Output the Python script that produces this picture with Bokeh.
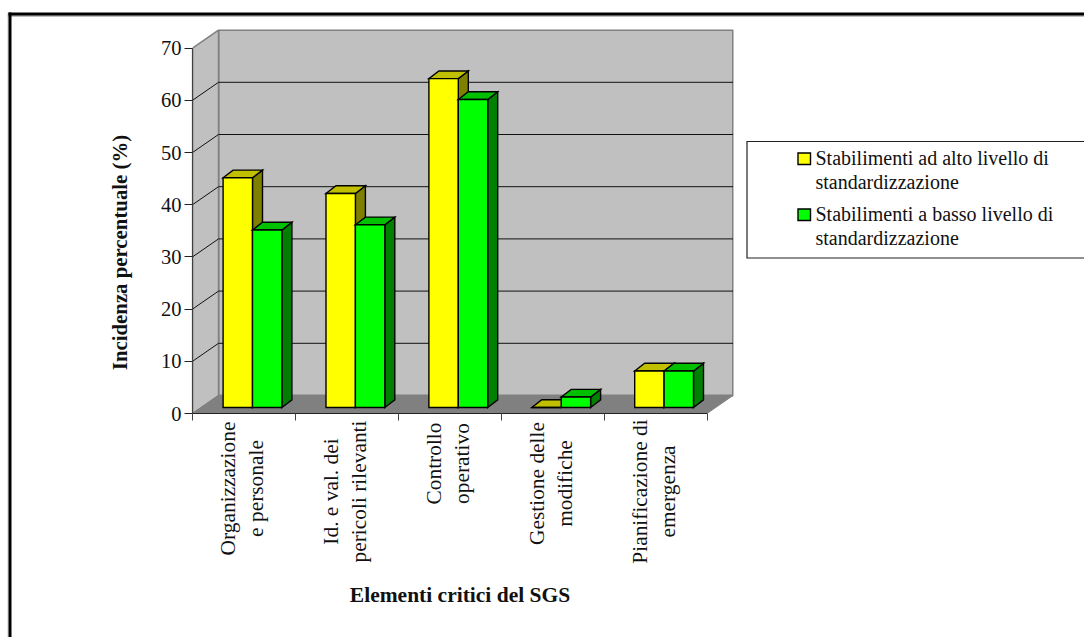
from math import pi

from bokeh.core.properties import value
from bokeh.embed import file_html
from bokeh.models import FixedTicker, LinearAxis, Range1d
from bokeh.plotting import figure
from bokeh.resources import INLINE

# Survey results: share of critical findings per SGS element
high_std = [44, 41, 63, 0, 7]
low_std = [34, 35, 59, 2, 7]
category_lines = [
    ("Organizzazione", "e personale"),
    ("Id. e val. dei", "pericoli rilevanti"),
    ("Controllo", "operativo"),
    ("Gestione delle", "modifiche"),
    ("Pianificazione di", "emergenza"),
]
y_ticks = [0, 10, 20, 30, 40, 50, 60, 70]
legend_lines = [
    ("Stabilimenti ad alto livello di", "standardizzazione"),
    ("Stabilimenti a basso livello di", "standardizzazione"),
]
y_title = "Incidenza percentuale (%)"
x_title = "Elementi critici del SGS"

# Page layout, in pixels
W, H = 1084, 637
LEFT, RIGHT, TOP, BOTTOM = 192, 733, 29, 413
PX_PER_CAT = 102.9
PX_PER_UNIT = 5.22
FONT = "Liberation Serif"
INK = "#111111"
# The text glyph sets its line a little below the requested position
TEXT_SHIFT = 7.5


def X(px):
    return (px - LEFT) / PX_PER_CAT


def Y(py):
    return (BOTTOM - py) / PX_PER_UNIT


# Depth of the box and of the bars, in data units
BOX_DX, BOX_DY = 26 / PX_PER_CAT, 18 / PX_PER_UNIT
BAR_DX, BAR_DY = 10 / PX_PER_CAT, 7.7 / PX_PER_UNIT
BAR_W = 29.4 / PX_PER_CAT
BAR_OFFSET = 30.6 / PX_PER_CAT
BAR_BASE = 6 / PX_PER_UNIT

p = figure(
    width=W,
    height=H,
    output_backend="svg",
    toolbar_location=None,
    x_range=Range1d(0, X(RIGHT)),
    y_range=Range1d(0, Y(TOP)),
    min_border_left=LEFT,
    min_border_right=W - RIGHT,
    min_border_top=TOP,
    min_border_bottom=H - BOTTOM,
    x_axis_type=None,
    y_axis_type=None,
    outline_line_color=None,
)
p.grid.visible = False

WALL = "#C0C0C0"
EDGE = "#808080"
n = len(high_std)
top = y_ticks[-1]

# Back wall, side wall and floor
p.quad(left=BOX_DX, right=n + BOX_DX, bottom=BOX_DY, top=top + BOX_DY,
       fill_color=WALL, line_color=EDGE, line_width=2)
p.patch([0, BOX_DX, BOX_DX, 0], [0, BOX_DY, top + BOX_DY, top],
        fill_color=WALL, line_color=EDGE, line_width=1.5)
p.patch([0, n, n + BOX_DX, BOX_DX], [0, 0, BOX_DY, BOX_DY],
        fill_color=EDGE, line_color=EDGE, line_width=1)

# Gridlines wrapped round the two walls
levels = y_ticks[1:-1]
p.segment(x0=[BOX_DX] * len(levels), y0=[v + BOX_DY for v in levels],
          x1=[n + BOX_DX] * len(levels), y1=[v + BOX_DY for v in levels],
          line_color=INK, line_width=1)
p.segment(x0=[0] * len(levels), y0=levels,
          x1=[BOX_DX] * len(levels), y1=[v + BOX_DY for v in levels],
          line_color=INK, line_width=1)


def bar(x0, v, front, roof, side):
    x1 = x0 + BAR_W
    y0, y1 = BAR_BASE, BAR_BASE + v
    style = dict(line_color="black", line_width=1.4, line_join="miter")
    p.patch([x1, x1 + BAR_DX, x1 + BAR_DX, x1],
            [y0, y0 + BAR_DY, y1 + BAR_DY, y1], fill_color=side, **style)
    p.patch([x0, x1, x1 + BAR_DX, x0 + BAR_DX],
            [y1, y1, y1 + BAR_DY, y1 + BAR_DY], fill_color=roof, **style)
    p.quad(left=x0, right=x1, bottom=y0, top=y1, fill_color=front, **style)


for i in range(n):
    x = i + BAR_OFFSET
    bar(x, high_std[i], "#FFFF00", "#C0C000", "#808000")
    bar(x + BAR_W, low_std[i], "#00FF00", "#00C000", "#008000")

# Value axis
p.add_layout(LinearAxis(
    ticker=FixedTicker(ticks=y_ticks),
    bounds=(0, top),
    axis_line_color="#404040",
    axis_line_width=1.2,
    major_tick_line_color="#222222",
    major_tick_in=0,
    major_tick_out=8,
    minor_tick_line_color=None,
    major_label_text_font=FONT,
    major_label_text_font_size="20.5px",
    major_label_text_color=INK,
    major_label_standoff=3,
), "left")

# Category axis: ticks mark the boundaries, names are drawn rotated below
p.add_layout(LinearAxis(
    ticker=FixedTicker(ticks=list(range(n + 1))),
    bounds=(0, n),
    axis_line_color="#222222",
    axis_line_width=1.2,
    major_tick_line_color="#444444",
    major_tick_in=0,
    major_tick_out=7,
    minor_tick_line_color=None,
    major_label_text_font_size="0px",
    major_label_overrides={i: "" for i in range(n + 1)},
), "below")


def text(px, py, label, size="20px", angle=0.0, align="left", style="normal"):
    # Overlay-level glyphs may lie outside the plot frame
    if angle:
        px -= TEXT_SHIFT
    else:
        py -= TEXT_SHIFT
    p.text(x=[X(px)], y=[Y(py)], text=[label], angle=angle, level="overlay",
           text_align=align, text_baseline="alphabetic",
           text_font=value(FONT), text_font_size=value(size),
           text_font_style=style, text_color=INK)


def box(x0, y0, x1, y1, fill, line=None, width=1):
    p.quad(left=[X(x0)], right=[X(x1)], top=[Y(y0)], bottom=[Y(y1)], level="overlay",
           fill_color=fill, line_color=line, line_width=width, line_join="miter")


# Rotated category names: vertical centre of each, and the two line offsets
name_mid = [488, 491, 463, 483, 491]
line_offsets = (-8, 19.5)
for i, lines in enumerate(category_lines):
    centre = LEFT + (i + 0.5) * PX_PER_CAT
    for label, off in zip(lines, line_offsets):
        text(centre + off, name_mid[i], label, size="21.4px", angle=pi / 2, align="center")

# Axis titles
text(126, 252, y_title, size="20.8px", angle=pi / 2, align="center", style="bold")
text(459.5, 601.5, x_title, size="21.5px", align="center", style="bold")

# Heavy frame along the top and left of the page
box(7, 15, W, 16, "#808080")
box(7, 12, 8, H, "#C8C8C8")
box(8, 12, W, 15, "black")
box(8, 12, 11, H, "black")

# Legend
box(746.5, 141, W + 6, 257.5, "white", "#222222", 1.2)
swatches = [("#FFFF00", 152.5), ("#00FF00", 208.5)]
baselines = [(164.5, 188.5), (221, 245)]
for (color, sy), lines, rows in zip(swatches, legend_lines, baselines):
    box(797.5, sy, 810, sy + 11.5, color, "black", 1.4)
    for label, row in zip(lines, rows):
        text(815, row, label)

open("out.html", "w").write(file_html(p, INLINE))
